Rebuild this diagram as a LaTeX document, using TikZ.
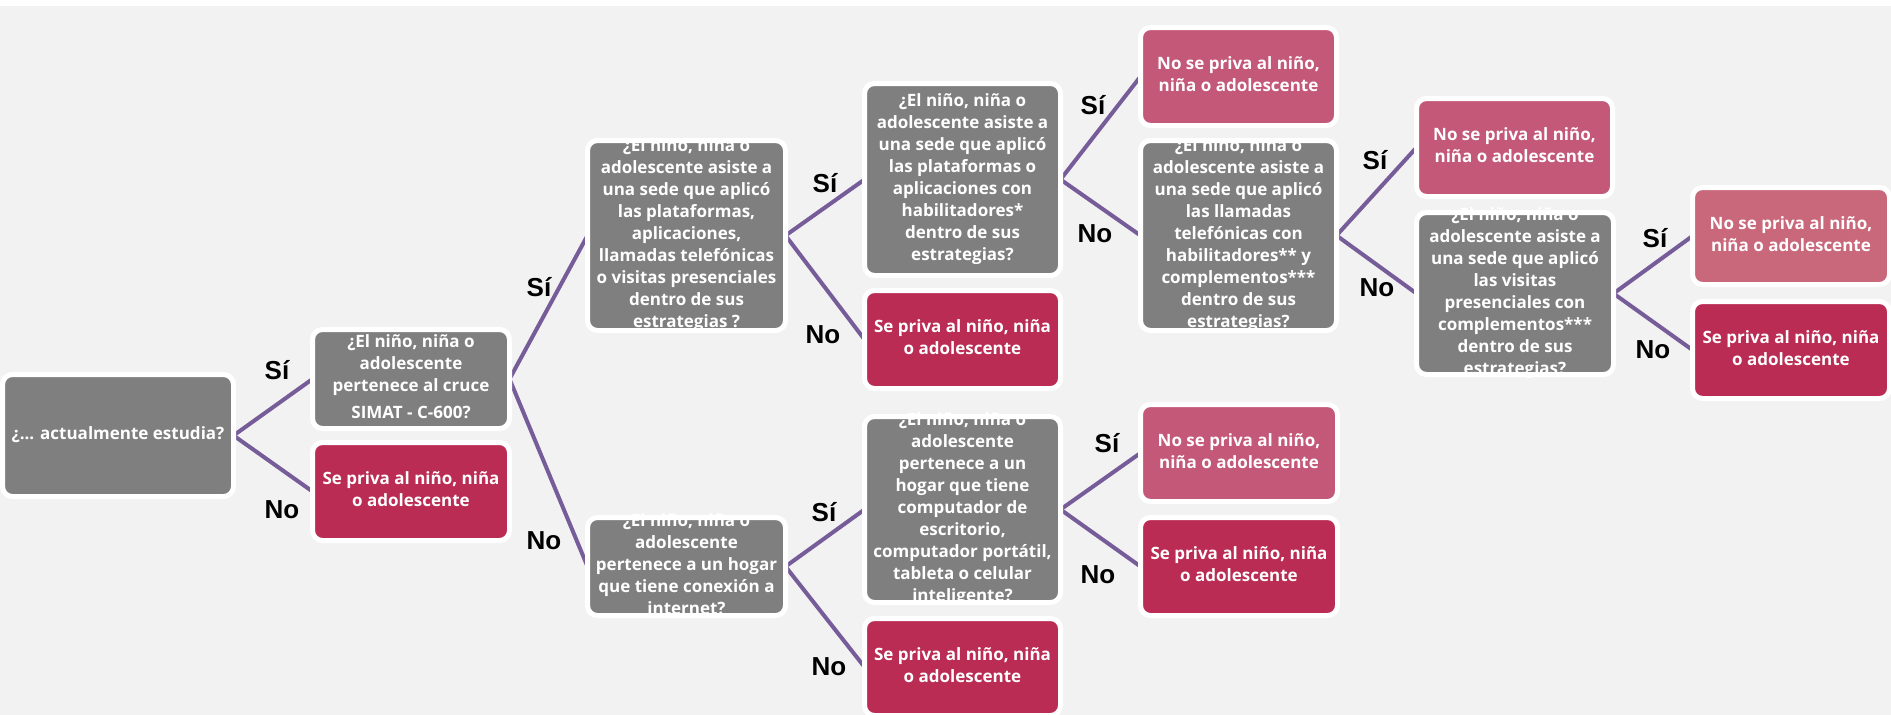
\documentclass[tikz,border=0pt]{standalone}
\usepackage{fontspec}
\setmainfont{Open Sans}
\newfontfamily\labfont{Liberation Sans}
\definecolor{qgray}{RGB}{127,127,127}
\definecolor{nred}{RGB}{187,44,84}
\definecolor{ypink}{RGB}{196,88,121}
\definecolor{ypinkl}{RGB}{201,104,123}
\definecolor{lineviolet}{RGB}{118,92,152}
\definecolor{bgc}{RGB}{242,242,242}
\pgfdeclarelayer{bg}
\pgfsetlayers{bg,main}
\newcommand\ctext[1]{\vbox to 0pt{\vss\hbox{\begin{tabular}{@{}c@{}}#1\end{tabular}}\vss}}
\tikzset{
  base/.style={rectangle, rounded corners=10pt, draw=white, line width=5pt, inner sep=0pt, outer sep=0pt, text=white, font=\fontsize{17}{22}\selectfont\bfseries},
  qbox/.style={base, fill=qgray},
  nbox/.style={base, fill=nred},
  ybox/.style={base, fill=ypink},
  conn/.style={draw=lineviolet, line width=4pt},
  lab/.style={font=\labfont\bfseries\fontsize{26}{30}\selectfont, text=black, inner sep=0pt}
}
\begin{document}
\begin{tikzpicture}[x=1pt,y=-1pt]
\useasboundingbox (0,0) rectangle (1891,715);
\begin{pgfonlayer}{bg}
\fill[white] (0,0) rectangle (1891,715);
\fill[bgc] (0,6) rectangle (1891,715);
\end{pgfonlayer}

% level 0
\node[qbox, minimum width=231pt, minimum height=122pt] (root) at (118,435.5) {\ctext{¿... actualmente estudia?}};
% level 1
\node[qbox, minimum width=197pt, minimum height=99pt] (q1) at (411,379) {\ctext{¿El niño, niña o\\adolescente\\pertenece al cruce\\[5pt]SIMAT - C-600?}};
\node[nbox, minimum width=197pt, minimum height=98pt] (n1) at (411,491.5) {\ctext{Se priva al niño, niña\\o adolescente}};
% level 2
\node[qbox, minimum width=198pt, minimum height=190pt] (q2) at (686.5,235.5) {\ctext{¿El niño, niña o\\adolescente asiste a\\una sede que aplicó\\las plataformas,\\aplicaciones,\\llamadas telefónicas\\o visitas presenciales\\dentro de sus\\estrategias ?}};
\node[qbox, minimum width=198pt, minimum height=98pt] (q3) at (686.5,566.5) {\ctext{¿El niño, niña o\\adolescente\\pertenece a un hogar\\que tiene conexión a\\internet?}};
% level 3
\node[qbox, minimum width=196pt, minimum height=192pt] (q4) at (962.5,179.5) {\ctext{¿El niño, niña o\\adolescente asiste a\\una sede que aplicó\\las plataformas o\\aplicaciones con\\habilitadores*\\dentro de sus\\estrategias?}};
\node[nbox, minimum width=196pt, minimum height=98pt] (n2) at (962.5,339.5) {\ctext{Se priva al niño, niña\\o adolescente}};
\node[qbox, minimum width=196pt, minimum height=186pt] (q5) at (962.5,509.5) {\ctext{¿El niño, niña o\\adolescente\\pertenece a un\\hogar que tiene\\computador de\\escritorio,\\computador portátil,\\tableta o celular\\inteligente?}};
\node[nbox, minimum width=196pt, minimum height=97pt] (n3) at (962.5,667) {\ctext{Se priva al niño, niña\\o adolescente}};
% level 4
\node[ybox, minimum width=196pt, minimum height=98pt] (y1) at (1238.5,76.5) {\ctext{No se priva al niño,\\niña o adolescente}};
\node[qbox, minimum width=196pt, minimum height=190pt] (q6) at (1238.5,235.5) {\ctext{¿El niño, niña o\\adolescente asiste a\\una sede que aplicó\\las llamadas\\telefónicas con\\habilitadores** y\\complementos***\\dentro de sus\\estrategias?}};
\node[ybox, minimum width=197pt, minimum height=97pt] (y4) at (1239,453) {\ctext{No se priva al niño,\\niña o adolescente}};
\node[nbox, minimum width=197pt, minimum height=98pt] (n5) at (1239,566.5) {\ctext{Se priva al niño, niña\\o adolescente}};
% level 5
\node[ybox, minimum width=196pt, minimum height=98pt] (y2) at (1514.5,147.5) {\ctext{No se priva al niño,\\niña o adolescente}};
\node[qbox, minimum width=197pt, minimum height=162pt] (q7) at (1515,293.5) {\ctext{¿El niño, niña o\\adolescente asiste a\\una sede que aplicó\\las visitas\\presenciales con\\complementos***\\dentro de sus\\estrategias?}};
% level 6
\node[ybox, fill=ypinkl, minimum width=197pt, minimum height=97pt] (y3) at (1791,236) {\ctext{No se priva al niño,\\niña o adolescente}};
\node[nbox, minimum width=197pt, minimum height=97pt] (n4) at (1791,350) {\ctext{Se priva al niño, niña\\o adolescente}};

% connectors
\begin{pgfonlayer}{bg}
\draw[conn] (root.east) -- (q1.west);
\draw[conn] (root.east) -- (n1.west);
\draw[conn] (q1.east) -- (q2.west);
\draw[conn] (q1.east) -- (q3.west);
\draw[conn] (q2.east) -- (q4.west);
\draw[conn] (q2.east) -- (n2.west);
\draw[conn] (q3.east) -- (q5.west);
\draw[conn] (q3.east) -- (n3.west);
\draw[conn] (q4.east) -- (y1.west);
\draw[conn] (q4.east) -- (q6.west);
\draw[conn] (q5.east) -- (y4.west);
\draw[conn] (q5.east) -- (n5.west);
\draw[conn] (q6.east) -- (y2.west);
\draw[conn] (q6.east) -- (q7.west);
\draw[conn] (q7.east) -- (y3.west);
\draw[conn] (q7.east) -- (n4.west);
\end{pgfonlayer}

% labels
\node[lab] (s1) at (277,370) {Sí};
\node[lab] (o1) at (282,510) {No};
\node[lab] (s2) at (539,287) {Sí};
\node[lab] (o2) at (544,541) {No};
\node[lab] (s3) at (825,183) {Sí};
\node[lab] (o3) at (823,335) {No};
\node[lab] (s4) at (824,512) {Sí};
\node[lab] (o4) at (829,667) {No};
\node[lab] (s5) at (1093,105) {Sí};
\node[lab] (o5) at (1095,234) {No};
\node[lab] (s6) at (1107,443) {Sí};
\node[lab] (o6) at (1098,575) {No};
\node[lab] (s7) at (1375,160) {Sí};
\node[lab] (o7) at (1377,288) {No};
\node[lab] (s8) at (1655,238) {Sí};
\node[lab] (o8) at (1653,350) {No};
\end{tikzpicture}
\end{document}
